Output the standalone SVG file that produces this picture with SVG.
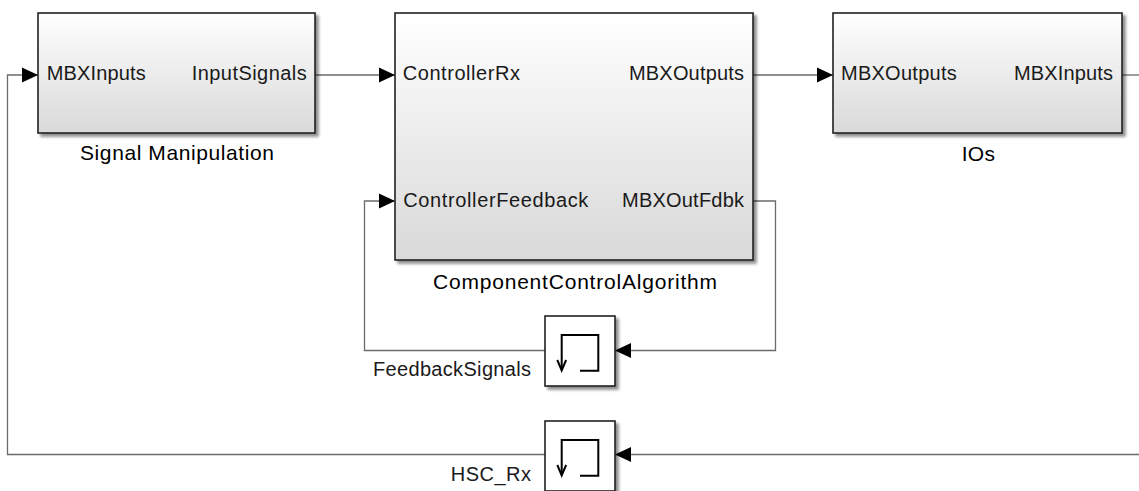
<svg xmlns="http://www.w3.org/2000/svg" width="1139" height="491" viewBox="0 0 1139 491">
  <defs>
    <linearGradient id="grad" x1="0" y1="0" x2="0" y2="1">
      <stop offset="0" stop-color="#ffffff"/>
      <stop offset="1" stop-color="#d9d9d9"/>
    </linearGradient>
    <filter id="shadow" x="-10%" y="-10%" width="130%" height="130%">
      <feGaussianBlur in="SourceAlpha" stdDeviation="1.5"/>
      <feOffset dx="2.5" dy="2.5" result="b"/>
      <feComponentTransfer><feFuncA type="linear" slope="0.45"/></feComponentTransfer>
      <feMerge><feMergeNode/><feMergeNode in="SourceGraphic"/></feMerge>
    </filter>
    <marker id="arrow" markerUnits="userSpaceOnUse" markerWidth="16" markerHeight="16" refX="16" refY="8" orient="auto">
      <path d="M0,0.5 L16,8 L0,15.5 Z" fill="#000"/>
    </marker>
  </defs>
  <style>
    .blk { fill: url(#grad); stroke: #222; stroke-width: 1.6; filter: url(#shadow); }
    .dly { fill: #ffffff; stroke: #222; stroke-width: 1.6; filter: url(#shadow); }
    .icon { fill: none; stroke: #000; stroke-width: 2; }
    .port { font-family: "Liberation Sans", Arial, sans-serif; font-size: 20px; fill: #1a1a1a; }
    .name { font-family: "Liberation Sans", Arial, sans-serif; font-size: 21px; fill: #000; }
    .wire { fill: none; stroke: #6a6a6a; stroke-width: 1.3; }
  </style>
  <rect width="1139" height="491" fill="#ffffff"/>

  <g id="connectors">
    <path class="wire" d="M315,75 H395" marker-end="url(#arrow)"/>
    <path class="wire" d="M753,75 H833" marker-end="url(#arrow)"/>
    <path class="wire" d="M1122,75 H1140"/>
    <path class="wire" d="M753,201 H775.5 V350.5 H615" marker-end="url(#arrow)"/>
    <path class="wire" d="M545,350.5 H364.5 V201 H395" marker-end="url(#arrow)"/>
    <path class="wire" d="M1140,454.5 H615" marker-end="url(#arrow)"/>
    <path class="wire" d="M545,454.5 H7.5 V75 H38" marker-end="url(#arrow)"/>
  </g>

  <g id="signal-manipulation">
    <rect class="blk" x="38" y="13" width="277" height="120"/>
    <text class="port" x="46.7" y="80" textLength="99" lengthAdjust="spacing">MBXInputs</text>
    <text class="port" x="191.7" y="80" textLength="115" lengthAdjust="spacing">InputSignals</text>
    <text class="name" x="80" y="159.5" textLength="194" lengthAdjust="spacing">Signal Manipulation</text>
  </g>

  <g id="component-control-algorithm">
    <rect class="blk" x="395" y="13" width="358" height="247"/>
    <text class="port" x="402.7" y="80" textLength="117.3" lengthAdjust="spacing">ControllerRx</text>
    <text class="port" x="629" y="80" textLength="115" lengthAdjust="spacing">MBXOutputs</text>
    <text class="port" x="403.3" y="206.7" textLength="185" lengthAdjust="spacing">ControllerFeedback</text>
    <text class="port" x="622" y="206.7" textLength="122" lengthAdjust="spacing">MBXOutFdbk</text>
    <text class="name" x="433" y="288.5" textLength="284" lengthAdjust="spacing">ComponentControlAlgorithm</text>
  </g>

  <g id="ios">
    <rect class="blk" x="833" y="13" width="289" height="120"/>
    <text class="port" x="841" y="80" textLength="115.7" lengthAdjust="spacing">MBXOutputs</text>
    <text class="port" x="1014" y="80" textLength="99" lengthAdjust="spacing">MBXInputs</text>
    <text class="name" x="961.7" y="161" textLength="33.3" lengthAdjust="spacing">IOs</text>
  </g>

  <g id="feedback-signals">
    <rect class="dly" x="545" y="316" width="70" height="70"/>
    <path class="icon" d="M561.7,370 V335 H598.3 V370.7 H580"/>
    <path class="icon" d="M557.3,360 L561.7,370.5 L566.1,360"/>
    <text class="port" x="373" y="376" textLength="158" lengthAdjust="spacing">FeedbackSignals</text>
  </g>

  <g id="hsc-rx">
    <rect class="dly" x="545" y="421" width="70" height="70"/>
    <path class="icon" d="M561.7,475 V440 H598.3 V475.7 H580"/>
    <path class="icon" d="M557.3,465 L561.7,475.5 L566.1,465"/>
    <text class="port" x="450.7" y="481" textLength="80.3" lengthAdjust="spacing">HSC_Rx</text>
  </g>
</svg>
